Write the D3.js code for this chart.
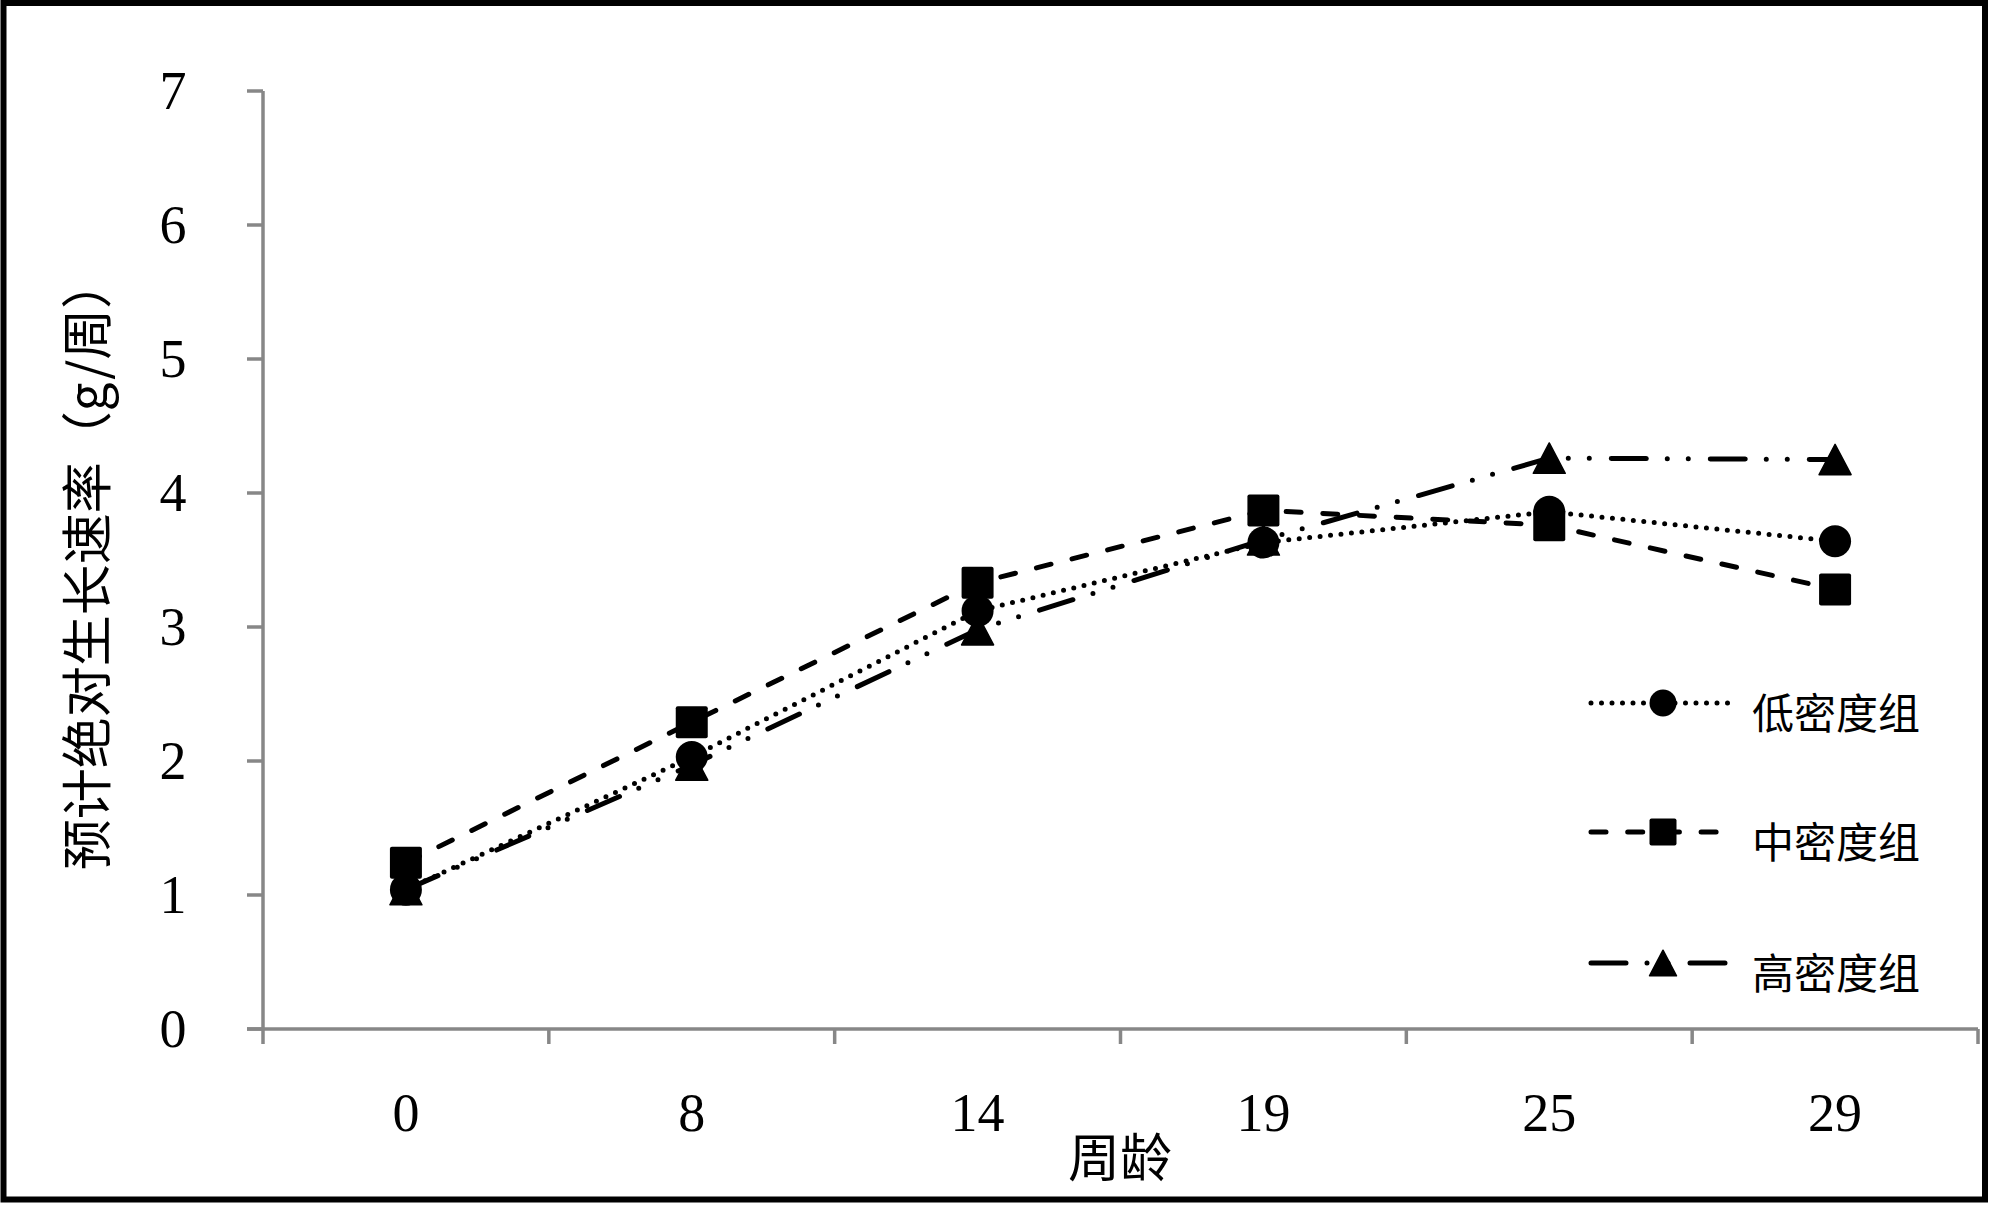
<!DOCTYPE html>
<html>
<head>
<meta charset="utf-8">
<script src="https://cdn.jsdelivr.net/npm/d3@7"></script>
<style>
  html, body { margin: 0; padding: 0; background: #fff; }
  svg { display: block; }
</style>
</head>
<body>
<script>
// ---- data ----
const categories = ["0", "8", "14", "19", "25", "29"];
const lowDensity  = [1.04, 2.03, 3.12, 3.63, 3.86, 3.64];
const midDensity  = [1.24, 2.29, 3.33, 3.87, 3.76, 3.28];
const highDensity = [1.04, 1.97, 2.98, 3.65, 4.26, 4.25];
const seriesNames = ["低密度组", "中密度组", "高密度组"];
const yTicks = [0, 1, 2, 3, 4, 5, 6, 7];
const xTitle = "周龄";
const yTitle = "预计绝对生长速率（g/周）";

const W = 2000, H = 1212;
const svg = d3.select("body").append("svg").attr("width", W).attr("height", H);
svg.append("rect").attr("width", W).attr("height", H).attr("fill", "#fff");

// frame
svg.append("rect").attr("x", 3.5).attr("y", 3).attr("width", 1981.5).attr("height", 1196.5)
  .attr("fill", "none").attr("stroke", "#000").attr("stroke-width", 6);

const x = d3.scaleBand().domain(categories).range([263, 1978]).padding(0);
const y = d3.scaleLinear().domain([0, 7]).range([1029, 91]);

const axisColor = "#878787";
const numFont = "'Liberation Serif', 'Noto Sans CJK SC', serif";
const cjkFont = "'Noto Sans CJK SC', sans-serif";

// y axis
const gy = svg.append("g");
gy.append("line").attr("x1", 263).attr("x2", 263).attr("y1", y(7)).attr("y2", y(0))
  .attr("stroke", axisColor).attr("stroke-width", 3.5);
gy.selectAll("line.tick").data(yTicks).join("line").attr("class", "tick")
  .attr("x1", 247).attr("x2", 263).attr("y1", d => y(d)).attr("y2", d => y(d))
  .attr("stroke", axisColor).attr("stroke-width", 3.5);
gy.selectAll("text").data(yTicks).join("text")
  .attr("x", 173).attr("y", d => y(d)).attr("text-anchor", "middle")
  .attr("dominant-baseline", "central")
  .attr("font-family", numFont).attr("font-size", 54).attr("fill", "#000")
  .text(d => d);

// x axis
const gx = svg.append("g");
gx.append("line").attr("x1", 247).attr("x2", 1978).attr("y1", y(0)).attr("y2", y(0))
  .attr("stroke", axisColor).attr("stroke-width", 3.5);
const tickPos = categories.map(c => x(c)).concat([x(categories[categories.length - 1]) + x.bandwidth()]);
gx.selectAll("line.tick").data(tickPos).join("line").attr("class", "tick")
  .attr("x1", d => d).attr("x2", d => d).attr("y1", y(0)).attr("y2", y(0) + 15)
  .attr("stroke", axisColor).attr("stroke-width", 3.5);
gx.selectAll("text").data(categories).join("text")
  .attr("x", d => x(d) + x.bandwidth() / 2).attr("y", 1113)
  .attr("text-anchor", "middle").attr("dominant-baseline", "central")
  .attr("font-family", numFont).attr("font-size", 54).attr("fill", "#000")
  .text(d => d);

// axis titles
svg.append("text").attr("x", 1120).attr("y", 1154)
  .attr("text-anchor", "middle").attr("dominant-baseline", "central")
  .attr("font-family", cjkFont).attr("font-size", 52).attr("fill", "#000")
  .text(xTitle);
svg.append("text").attr("transform", "translate(84,564) rotate(-90)")
  .attr("text-anchor", "middle").attr("dominant-baseline", "central")
  .attr("font-family", cjkFont).attr("font-size", 51).attr("fill", "#000")
  .text(yTitle);

// series
const styles = [
  { data: lowDensity,  dash: "0 10.5", marker: "circle" },
  { data: midDensity,  dash: "15 21.7", marker: "square" },
  { data: highDensity, dash: "35 21 0 21 0 22", marker: "triangle" }
];
const cx = c => x(c) + x.bandwidth() / 2;
const line = d3.line().x(d => cx(d.c)).y(d => y(d.v));

function drawMarker(g, type, px, py, s) {
  if (type === "circle") {
    g.append("circle").attr("cx", px).attr("cy", py).attr("r", s / 2).attr("fill", "#000");
  } else if (type === "square") {
    g.append("rect").attr("x", px - s / 2).attr("y", py - s / 2).attr("width", s).attr("height", s)
      .attr("rx", 2).attr("fill", "#000");
  } else {
    const h = s * 0.95, w = s;
    const p = d3.path();
    p.moveTo(px, py - h / 2); p.lineTo(px + w / 2, py + h / 2); p.lineTo(px - w / 2, py + h / 2); p.closePath();
    g.append("path").attr("d", p.toString()).attr("fill", "#000")
      .attr("stroke", "#000").attr("stroke-width", 1.5).attr("stroke-linejoin", "round");
  }
}

// draw lines first (high, mid, low), then markers
const order = [2, 1, 0];
const gLines = svg.append("g");
order.forEach(i => {
  const st = styles[i];
  const pts = categories.map((c, j) => ({ c, v: st.data[j] }));
  gLines.append("path").attr("d", line(pts)).attr("fill", "none")
    .attr("stroke", "#000").attr("stroke-width", 5)
    .attr("stroke-linecap", "round").attr("stroke-linejoin", "round")
    .attr("stroke-dasharray", st.dash);
});
const gMarks = svg.append("g");
order.forEach(i => {
  const st = styles[i];
  categories.forEach((c, j) => drawMarker(gMarks, st.marker, cx(c), y(st.data[j]), 32));
});

// legend
const legY = [703, 832, 963];
const gLeg = svg.append("g");
styles.forEach((st, i) => {
  gLeg.append("line").attr("x1", 1591).attr("x2", 1733).attr("y1", legY[i]).attr("y2", legY[i])
    .attr("stroke", "#000").attr("stroke-width", 5).attr("stroke-linecap", "round")
    .attr("stroke-dasharray", i === 0 ? "0 10.5" : (i === 1 ? "15 21.7" : "35 21 0 21 0 22"));
  drawMarker(gLeg, st.marker, 1663, legY[i], 27);
  gLeg.append("text").attr("x", 1752).attr("y", legY[i] + 7)
    .attr("dominant-baseline", "central")
    .attr("font-family", cjkFont).attr("font-size", 42).attr("fill", "#000")
    .text(seriesNames[i]);
});
</script>
</body>
</html>
